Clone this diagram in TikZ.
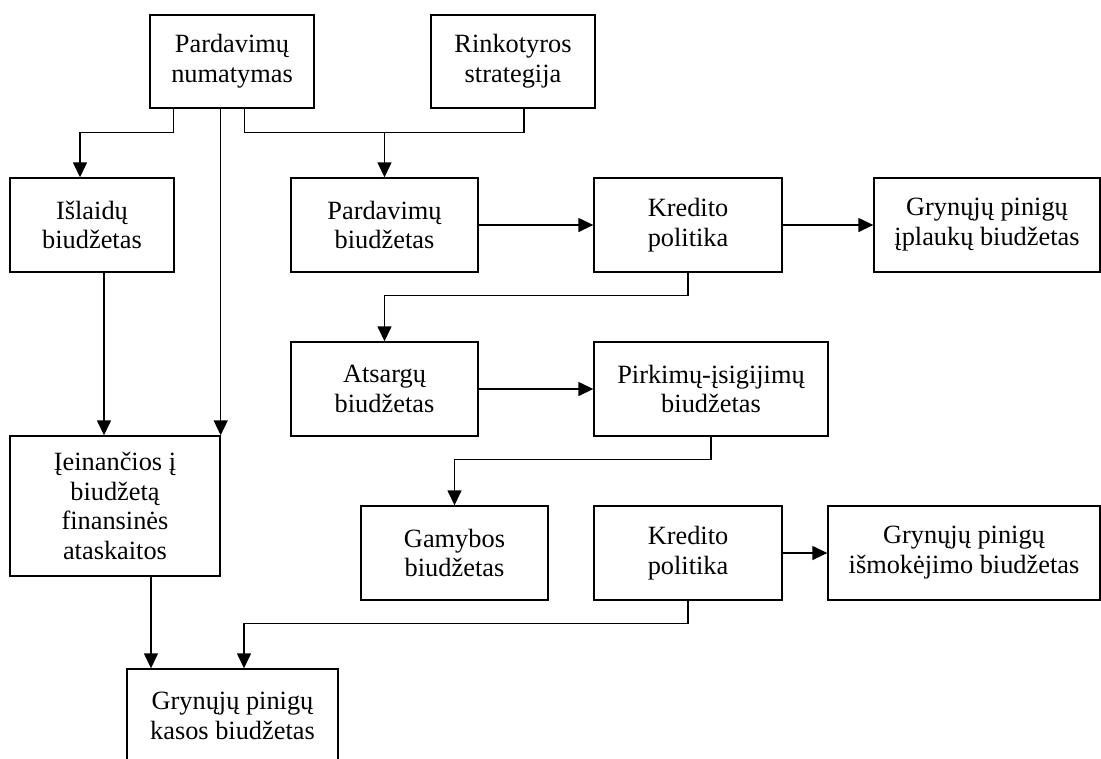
\documentclass[tikz,border=0pt]{standalone}
\usepackage{fontspec}
\setmainfont{Liberation Serif}
\usetikzlibrary{arrows.meta}

\begin{document}
\begin{tikzpicture}[x=0.02cm, y=-0.02cm, line width=0.8pt, >={Triangle[length=0.3cm, width=0.28cm]}, main/.style = {draw, rectangle, align=center, inner sep=2pt, font=\fontsize{15}{17}\selectfont}]
	\useasboundingbox (0,0) rectangle (1101,758);
	\node[main, minimum width=3.28cm, minimum height=1.86cm] (1) at (232,61.5) {Pardavimų\\numatymas};
	\node[main, minimum width=3.28cm, minimum height=1.86cm] (2) at (513,61.5) {Rinkotyros\\strategija};
	\node[main, minimum width=3.28cm, minimum height=1.88cm] (3) at (92,225) {Išlaidų\\biudžetas};
	\node[main, minimum width=3.74cm, minimum height=1.88cm] (4) at (384.5,225) {Pardavimų\\biudžetas};
	\node[main, minimum width=3.76cm, minimum height=1.88cm] (5) at (688,225) {Kredito\\politika};
	\node[main, minimum width=4.52cm, minimum height=1.88cm] (6) at (987,225) {Grynųjų pinigų\\įplaukų biudžetas};
	\node[main, minimum width=3.74cm, minimum height=1.88cm] (7) at (384.5,389) {Atsargų\\biudžetas};
	\node[main, minimum width=4.68cm, minimum height=1.88cm] (8) at (711,389) {Pirkimų-įsigijimų\\biudžetas};
	\node[main, minimum width=4.2cm, minimum height=2.8cm] (9) at (115,506) {Įeinančios į\\biudžetą\\finansinės\\ataskaitos};
	\node[main, minimum width=3.74cm, minimum height=1.88cm] (10) at (454.5,553) {Gamybos\\biudžetas};
	\node[main, minimum width=3.76cm, minimum height=1.88cm] (11) at (688,553) {Kredito\\politika};
	\node[main, minimum width=5.44cm, minimum height=1.88cm] (12) at (964,553) {Grynųjų pinigų\\išmokėjimo biudžetas};
	\node[main, minimum width=4.22cm, minimum height=1.88cm] (13) at (232.5,716) {Grynųjų pinigų\\kasos biudžetas};
	\draw[->] ([xshift=0.48cm]1.south west) -- ++(0,24) -| ([xshift=-0.24cm]3.north);
	\draw[->] (9.north east |- 1.south) -- (9.north east);
	\draw[] ([xshift=1.9cm]1.south west) -- ++(0,24) -| ([xshift=0.22cm]2.south);
	\draw[->] ([yshift=-0.48cm]1.south -| 4.north) -- (4.north);
	\draw[->] ([xshift=0.24cm]3.south) -- ([xshift=0.24cm]3.south |- 9.north);
	\draw[->] (4.east) -- (5.west);
	\draw[->] (5.east) -- (6.west);
	\draw[->] (5.south) -- ++(0,23) -| (7.north);
	\draw[->] (7.east) -- (8.west);
	\draw[->] (8.south) -- ++(0,23) -| (10.north);
	\draw[->] (11.east) -- (12.west);
	\draw[->] (11.south) -- ++(0,23) -| ([xshift=0.23cm]13.north);
	\draw[->] ([xshift=0.72cm]9.south) -- ([xshift=0.72cm]9.south |- 13.north);
\end{tikzpicture}
\end{document}
